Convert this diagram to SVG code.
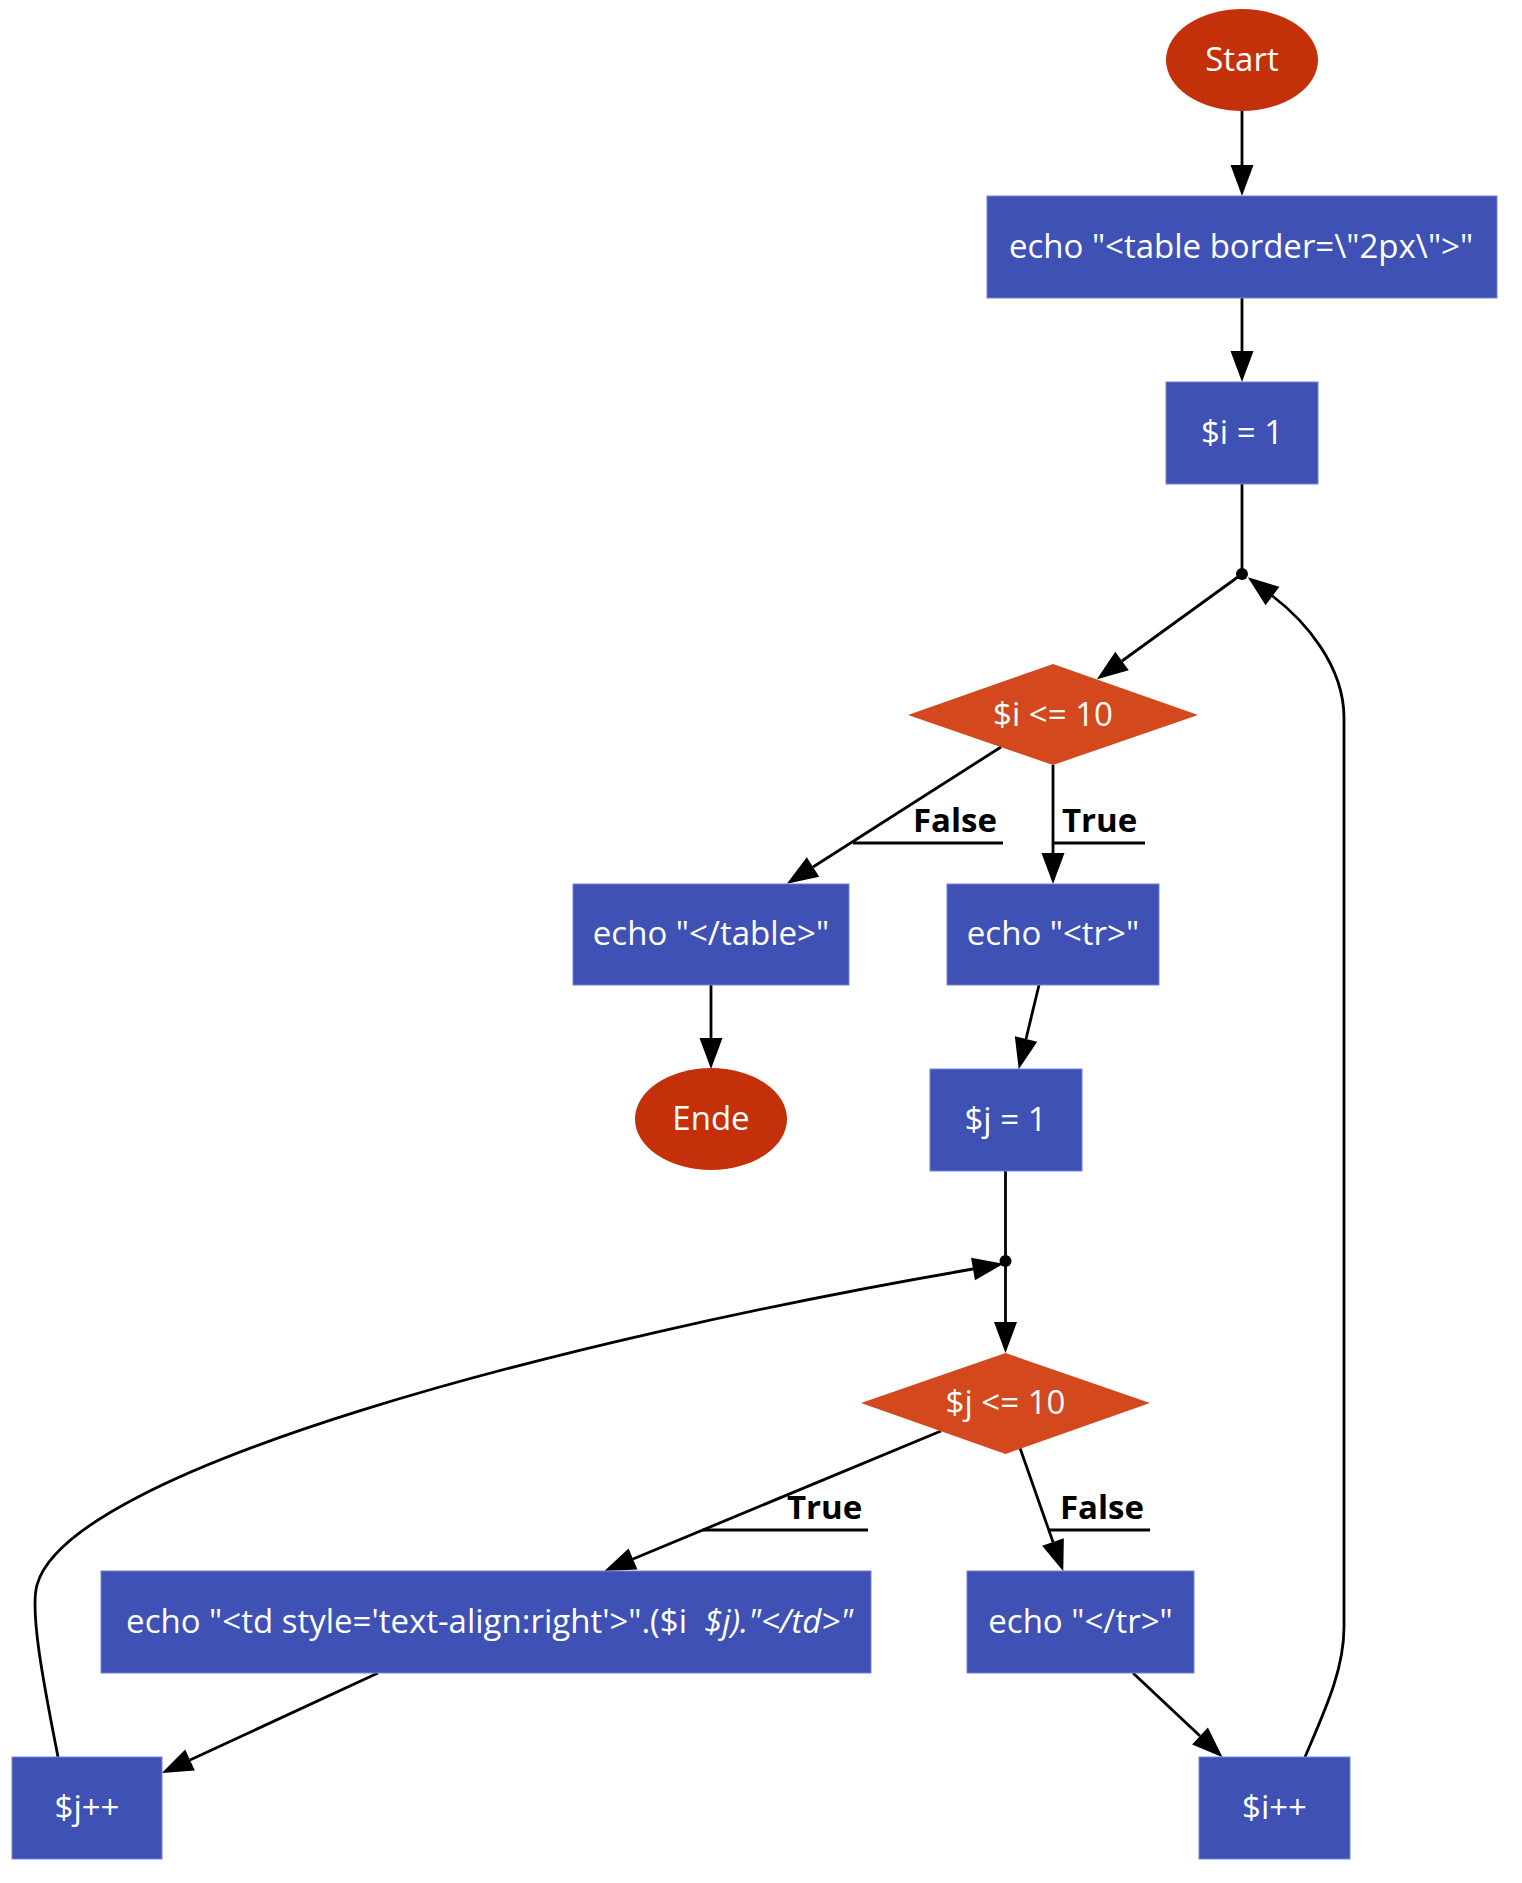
<svg xmlns="http://www.w3.org/2000/svg" width="1522" height="1883" viewBox="0 0 1522 1883">
<style>
.box{fill:#3F51B5;stroke:#7584D0;stroke-width:1}
.term{fill:#C3300A}
.dec{fill:#D3481D}
.t{font-family:"Open Sans","Noto Sans","DejaVu Sans",sans-serif;font-size:33px;fill:#ffffff;text-anchor:middle}
.lbl{font-family:"Open Sans","Noto Sans","DejaVu Sans",sans-serif;font-size:33px;font-weight:bold;fill:#000000}
.e{fill:none;stroke:#000;stroke-width:2.8}
.dot{fill:#000}
</style>
<defs>
<marker id="ah" markerUnits="userSpaceOnUse" markerWidth="32" markerHeight="24" refX="0" refY="11.5" orient="auto" overflow="visible">
<path d="M0,0 L31,11.5 L0,23 Z" fill="#000"/>
</marker>
</defs>
<g id="connectors">
<path class="e" d="M1242,111 L1242,165" marker-end="url(#ah)"/>
<path class="e" d="M1242,298 L1242,351" marker-end="url(#ah)"/>
<path class="e" d="M1242,484 L1242,574"/>
<circle class="dot" cx="1242" cy="574" r="6"/>
<path class="e" d="M1242,574 L1122,661" marker-end="url(#ah)"/>
<path class="e" d="M1001,747 L813,867" marker-end="url(#ah)"/>
<path class="e" d="M1053,765 L1053,853" marker-end="url(#ah)"/>
<path class="e" d="M853,843 L1003,843"/>
<text class="lbl" x="913" y="832">False</text>
<path class="e" d="M1053,843 L1145,843"/>
<text class="lbl" x="1062" y="832">True</text>
<path class="e" d="M711,985 L711,1038" marker-end="url(#ah)"/>
<path class="e" d="M1039,985 L1026,1039" marker-end="url(#ah)"/>
<path class="e" d="M1005.5,1171 L1005.5,1261"/>
<circle class="dot" cx="1005.5" cy="1261" r="6"/>
<path class="e" d="M1005.5,1261 L1005.5,1322" marker-end="url(#ah)"/>
<path class="e" d="M941,1431 L633,1559" marker-end="url(#ah)"/>
<path class="e" d="M703,1530 L868,1530"/>
<text class="lbl" x="787" y="1519">True</text>
<path class="e" d="M1020,1448 L1053,1542" marker-end="url(#ah)"/>
<path class="e" d="M1049,1530 L1150,1530"/>
<text class="lbl" x="1060" y="1519">False</text>
<path class="e" d="M378,1673 L190,1760" marker-end="url(#ah)"/>
<path class="e" d="M1133,1673 L1200,1736" marker-end="url(#ah)"/>
<path class="e" d="M1305,1757 C1325,1710 1344,1670 1344,1627 L1344,718 C1344,665 1304,620 1272.5,596" marker-end="url(#ah)"/>
<path class="e" d="M58,1757 C47,1700 29,1614 37,1585 C68.6,1469 560,1340 973,1269" marker-end="url(#ah)"/>
</g>
<g id="start">
<ellipse class="term" cx="1242" cy="60" rx="76" ry="51"/>
<text class="t" x="1242" y="71">Start</text>
</g>
<g id="echo_table">
<rect class="box" x="987" y="196" width="510" height="102"/>
<text class="t" x="1241" y="258">echo "&lt;table border=\"2px\"&gt;"</text>
</g>
<g id="i_init">
<rect class="box" x="1166" y="382" width="152" height="102"/>
<text class="t" x="1242" y="444">$i = 1</text>
</g>
<g id="i_cond">
<polygon class="dec" points="1053,664 1198,715 1053,765 908,715"/>
<text class="t" x="1053" y="726">$i &lt;= 10</text>
</g>
<g id="echo_table_end">
<rect class="box" x="573" y="884" width="276" height="101"/>
<text class="t" x="711" y="945">echo "&lt;/table&gt;"</text>
</g>
<g id="echo_tr">
<rect class="box" x="947" y="884" width="212" height="101"/>
<text class="t" x="1053" y="945">echo "&lt;tr&gt;"</text>
</g>
<g id="ende">
<ellipse class="term" cx="711" cy="1119" rx="76" ry="51"/>
<text class="t" x="711" y="1130">Ende</text>
</g>
<g id="j_init">
<rect class="box" x="930" y="1069" width="152" height="102"/>
<text class="t" x="1005.5" y="1131">$j = 1</text>
</g>
<g id="j_cond">
<polygon class="dec" points="1005.5,1353 1150,1403 1005.5,1454 861,1403"/>
<text class="t" x="1005.5" y="1414">$j &lt;= 10</text>
</g>
<g id="echo_td">
<rect class="box" x="101" y="1571" width="770" height="102"/>
<text class="t" x="489.5" y="1633" xml:space="preserve">echo "&lt;td style='text-align:right'&gt;".($i  <tspan font-style="italic">$j)."&lt;/td&gt;"</tspan></text>
</g>
<g id="echo_tr_end">
<rect class="box" x="967" y="1571" width="227" height="102"/>
<text class="t" x="1080.5" y="1633">echo "&lt;/tr&gt;"</text>
</g>
<g id="j_inc">
<rect class="box" x="12" y="1757" width="150" height="102"/>
<text class="t" x="87" y="1819">$j++</text>
</g>
<g id="i_inc">
<rect class="box" x="1199" y="1757" width="151" height="102"/>
<text class="t" x="1274.5" y="1819">$i++</text>
</g>
</svg>
